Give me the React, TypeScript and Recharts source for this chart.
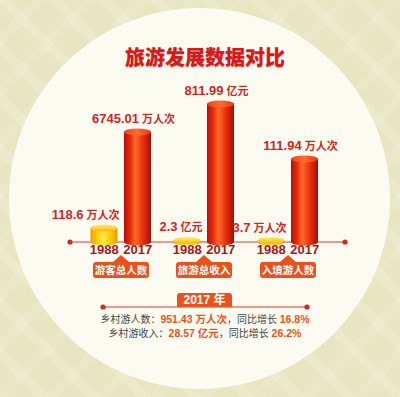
import { BarChart, Bar, XAxis, YAxis, LabelList } from "recharts";

const years = ["1988", "2017"];
const groupNames = ["游客总人数", "旅游总收入", "入境游人数"];
const units = ["万人次", "亿元", "万人次"];
const touristTotal = [118.6, 6745.01];
const tourismRevenue = [2.3, 811.99];
const inboundTourists = [3.7, 111.94];

const ruralYear = "2017";
const ruralVisitors = 951.43;
const ruralVisitorsGrowth = 16.8;
const ruralRevenue = 28.57;
const ruralRevenueGrowth = 26.2;

const title = "旅游发展数据对比";

// each group is drawn on its own compressed (log) axis, like the infographic
const groupDomains: [number, number][] = [
  [65.8, 139600],
  [2.156, 5378],
  [3.475, 7040],
];
const groupLefts = [79, 162, 246];

const RED = "#d8231b";
const ORANGE = "#e9521d";
const FONT = "'Liberation Sans', 'Noto Sans CJK SC', sans-serif";

function Cylinder(props: any) {
  const { x, y, width, height, payload, gid } = props;
  if (width == null || y == null) return null;
  const rx = width / 2;
  const ry = 3.5;
  const bottom = y + Math.max(height, 0);
  const old = payload.year === years[0];
  const body = old ? `url(#${gid}-gold)` : `url(#${gid}-red)`;
  const top = old ? `url(#${gid}-goldTop)` : `url(#${gid}-redTop)`;
  return (
    <g>
      <path
        d={`M${x},${y} L${x},${bottom} A${rx},${ry} 0 0 0 ${x + width},${bottom} L${x + width},${y} Z`}
        fill={body}
      />
      <ellipse cx={x + rx} cy={y} rx={rx} ry={ry} fill={top} />
    </g>
  );
}

function GroupChart({ values, unit, index }: { values: number[]; unit: string; index: number }) {
  const gid = `g${index}`;
  const rows = years.map((year, i) => ({ year, value: values[i] }));
  return (
    <BarChart
      width={84}
      height={205}
      data={rows}
      margin={{ top: 0, right: 8.5, left: 8.5, bottom: 0 }}
      barCategoryGap={0}
      style={{ overflow: "visible" }}
    >
      <defs>
        <linearGradient id={`${gid}-red`} x1="0" y1="0" x2="1" y2="0">
          <stop offset="0%" stopColor="#b50f0a" />
          <stop offset="22%" stopColor="#e6290e" />
          <stop offset="42%" stopColor="#ff6a26" />
          <stop offset="70%" stopColor="#e8300f" />
          <stop offset="100%" stopColor="#a80c08" />
        </linearGradient>
        <linearGradient id={`${gid}-redTop`} x1="0" y1="0" x2="1" y2="0">
          <stop offset="0%" stopColor="#f0401a" />
          <stop offset="50%" stopColor="#ff6b2c" />
          <stop offset="100%" stopColor="#e83414" />
        </linearGradient>
        <linearGradient id={`${gid}-gold`} x1="0" y1="0" x2="1" y2="0">
          <stop offset="0%" stopColor="#eea000" />
          <stop offset="30%" stopColor="#ffd21c" />
          <stop offset="50%" stopColor="#ffe845" />
          <stop offset="80%" stopColor="#f8c000" />
          <stop offset="100%" stopColor="#e89600" />
        </linearGradient>
        <linearGradient id={`${gid}-goldTop`} x1="0" y1="0" x2="0" y2="1">
          <stop offset="0%" stopColor="#ffee70" />
          <stop offset="100%" stopColor="#f7b800" />
        </linearGradient>
      </defs>
      <XAxis
        dataKey="year"
        axisLine={false}
        tickLine={false}
        tickSize={0}
        tickMargin={3}
        height={23}
        interval={0}
        tick={{ fontSize: 13, fontWeight: 700, fill: "#a8141c", fontFamily: FONT }}
      />
      <YAxis hide type="number" scale="log" domain={groupDomains[index]} />
      <Bar
        dataKey="value"
        barSize={27}
        isAnimationActive={false}
        shape={(p: any) => <Cylinder {...p} gid={gid} />}
      >
        <LabelList
          dataKey="value"
          content={(p: any) => {
            const { x, y, width, value, index: i } = p;
            const old = i === 0;
            const tx = old ? x + width + 2 : x + width / 2 - 4;
            return (
              <text
                x={tx}
                y={y - 9}
                textAnchor={old ? "end" : "middle"}
                fill={RED}
                fontWeight={700}
                fontFamily={FONT}
              >
                <tspan fontSize={13}>{value}</tspan>
                <tspan fontSize={11} dx={3}>
                  {unit}
                </tspan>
              </text>
            );
          }}
        />
      </Bar>
    </BarChart>
  );
}

function CategoryTag({ name, left }: { name: string; left: number }) {
  return (
    <div style={{ position: "absolute", left: left + 42 - 28, top: 255, width: 56 }}>
      <div
        style={{
          width: 0,
          height: 0,
          margin: "0 auto",
          borderLeft: "8px solid transparent",
          borderRight: "8px solid transparent",
          borderBottom: `7px solid ${ORANGE}`,
        }}
      />
      <div
        style={{
          height: 16,
          lineHeight: "16px",
          background: ORANGE,
          borderRadius: 3,
          color: "#fff",
          fontSize: 10.5,
          fontWeight: 700,
          textAlign: "center",
          fontFamily: FONT,
        }}
      >
        {name}
      </div>
    </div>
  );
}

export default function App() {
  const groups = [touristTotal, tourismRevenue, inboundTourists];
  const num = { color: ORANGE, fontWeight: 700, fontSize: 10.5 };
  const line = {
    position: "absolute" as const,
    left: 0,
    width: 410,
    textAlign: "center" as const,
    fontSize: 10,
    lineHeight: "14px",
    color: "#444",
    whiteSpace: "nowrap" as const,
  };
  return (
    <div
      style={{
        position: "fixed",
        left: 0,
        top: 0,
        width: 400,
        height: 397,
        overflow: "hidden",
        fontFamily: FONT,
        background: "#e8e5c3",
        backgroundImage:
          "repeating-linear-gradient(45deg, rgba(255,255,245,0) 0 26px, rgba(255,255,245,0.16) 26px 36px), repeating-linear-gradient(-45deg, rgba(255,255,245,0) 0 26px, rgba(255,255,245,0.1) 26px 36px)",
      }}
    >
      <style>{`.recharts-surface{overflow:visible}`}</style>
      <div
        style={{
          position: "absolute",
          left: 9,
          top: 8,
          width: 381,
          height: 381,
          borderRadius: "50%",
          background: "#fcfbf1",
        }}
      />
      <div
        style={{
          position: "absolute",
          left: 105,
          top: 47,
          width: 200,
          textAlign: "center",
          fontSize: 20,
          lineHeight: "22px",
          fontWeight: 900,
          color: "#d7191b",
          textShadow: "0 1px 1px rgba(120,0,0,0.25)",
        }}
      >
        {title}
      </div>
      <svg width={400} height={397} style={{ position: "absolute", left: 0, top: 0 }}>
        <line x1={70} x2={345} y1={242} y2={242} stroke="#e23a22" strokeWidth={1.2} />
        <circle cx={70} cy={242} r={2.6} fill="#d8261a" />
        <circle cx={345} cy={242} r={2.6} fill="#d8261a" />
        <line x1={103} x2={307} y1={307} y2={307} stroke="#e23a22" strokeWidth={1.2} />
        <circle cx={103} cy={307} r={2.6} fill="#d8261a" />
        <circle cx={307} cy={307} r={2.6} fill="#d8261a" />
      </svg>
      {groups.map((values, i) => (
        <div key={i} style={{ position: "absolute", left: groupLefts[i], top: 60 }}>
          <GroupChart values={values} unit={units[i]} index={i} />
        </div>
      ))}
      {groupNames.map((name, i) => (
        <CategoryTag key={name} name={name} left={groupLefts[i]} />
      ))}
      <div
        style={{
          position: "absolute",
          left: 177,
          top: 293,
          width: 55,
          height: 14,
          lineHeight: "14px",
          background: ORANGE,
          borderRadius: "3px 3px 0 0",
          color: "#fff",
          fontWeight: 700,
          fontSize: 12,
          textAlign: "center",
        }}
      >
        {ruralYear} 年
      </div>
      <div style={{ ...line, top: 312 }}>
        乡村游人数：<span style={num}>{ruralVisitors} 万人次</span>，同比增长{" "}
        <span style={num}>{ruralVisitorsGrowth}%</span>
      </div>
      <div style={{ ...line, top: 326 }}>
        乡村游收入：<span style={num}>{ruralRevenue} 亿元</span>，同比增长{" "}
        <span style={num}>{ruralRevenueGrowth}%</span>
      </div>
    </div>
  );
}
